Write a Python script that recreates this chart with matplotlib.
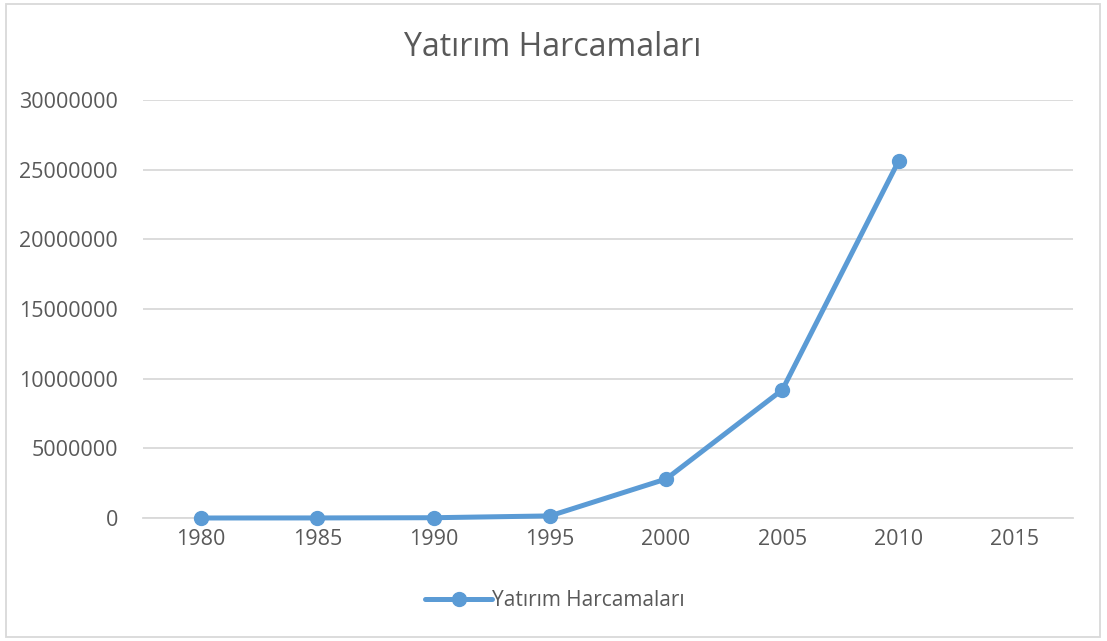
import matplotlib.pyplot as plt
from matplotlib.patches import Rectangle

years = ["1980", "1985", "1990", "1995", "2000", "2005", "2010", "2015"]
values = [0, 5000, 20000, 150000, 2800000, 9200000, 25620000]
series_name = "Yatırım Harcamaları"

plt.rcParams["font.family"] = ["Open Sans", "DejaVu Sans"]

fig = plt.figure(figsize=(11.07, 6.41), dpi=100)
ax = fig.add_axes([143 / 1107, 1 - 518 / 641, 930 / 1107, 418 / 641])

grid_color = "#d9d9d9"
text_color = "#595959"
line_color = "#5b9bd5"

x = list(range(len(values)))
ax.plot(x, values, color=line_color, linewidth=3.6, marker="o",
        markersize=10, label=series_name, solid_capstyle="round",
        clip_on=False, zorder=3)

ax.set_xlim(-0.5, len(years) - 0.5)
ax.set_ylim(0, 30000000)
ax.set_xticks(range(len(years)))
ax.set_xticklabels(years)
ax.set_yticks(range(0, 30000001, 5000000))
ax.set_yticklabels([str(v) for v in range(0, 30000001, 5000000)])
ax.tick_params(length=0, labelsize=15.5, colors=text_color)
ax.tick_params(axis="y", pad=18)
ax.tick_params(axis="x", pad=8)
ax.grid(axis="y", color=grid_color, linewidth=1.3)
ax.set_axisbelow(True)
for side in ["top", "right", "left"]:
    ax.spines[side].set_visible(False)
ax.spines["bottom"].set_color(grid_color)
ax.spines["bottom"].set_linewidth(1.3)

fig.text(553 / 1107, 1 - 47 / 641, series_name, ha="center", va="center",
         fontsize=23, color=text_color)

leg = fig.legend(loc="center", bbox_to_anchor=(555 / 1107, 1 - 601 / 641),
                 frameon=False, fontsize=15, handlelength=3.2,
                 handletextpad=0.0, labelcolor=text_color)

fig.patches.append(Rectangle((6 / 1107, 4 / 641), 1094 / 1107, 633 / 641,
                             transform=fig.transFigure, fill=False,
                             edgecolor=grid_color, linewidth=1.3))

plt.savefig("out.png", dpi=100)
